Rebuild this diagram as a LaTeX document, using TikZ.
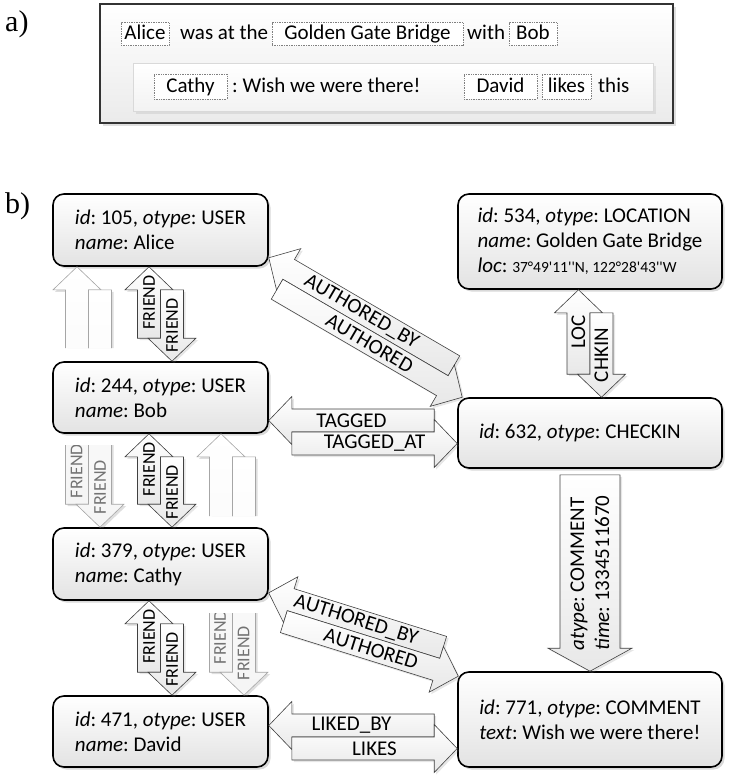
\documentclass[tikz,border=0pt]{standalone}
\usepackage{fontspec}
\setmainfont{Carlito}
\newfontfamily\partfont{Liberation Serif}
\usetikzlibrary{calc,shadows}

\newcommand{\bsw}{11.5pt}
\newcommand{\bhw}{24pt}

\tikzset{
  obj/.style={draw, line width=1.6pt, rounded corners=11pt, top color=white, bottom color=black!11,
    drop shadow={opacity=0.3, shadow xshift=2.5pt, shadow yshift=-2.5pt},
    align=left, inner xsep=10pt, inner ysep=0pt,
    font=\fontsize{21}{25}\selectfont},
  barrow/.style={draw=black!75, line width=0.6pt, top color=white, bottom color=black!9,
    drop shadow={opacity=0.2, shadow xshift=2pt, shadow yshift=-2pt}},
  ghost/.style={draw=black!35, top color=white, bottom color=black!4,
    drop shadow={opacity=0.08, shadow xshift=2pt, shadow yshift=-2pt}},
  lbl/.style={inner sep=0pt, font=\fontsize{21}{25}\selectfont},
  friend/.style={lbl, rotate=90, font=\fontsize{18}{20}\selectfont},
  ghostlbl/.style={friend, text=black!55},
  sentbox/.style={draw=black!80, line width=1.2pt, top color=white, bottom color=black!8,
    drop shadow={opacity=0.25, shadow xshift=3pt, shadow yshift=-3pt}},
  quotebox/.style={draw=black!15, line width=0.8pt, top color=white, bottom color=black!5,
    drop shadow={opacity=0.15, shadow xshift=2.5pt, shadow yshift=-2.5pt}},
  word/.style={draw=black!50, densely dotted, line width=0.7pt, fill=white,
    text height=15pt, text depth=4pt, inner xsep=0pt, inner ysep=2pt,
    font=\fontsize{21}{25}\selectfont},
  txt/.style={anchor=base west, inner sep=0pt, font=\fontsize{21}{25}\selectfont},
  tagtxt/.style={anchor=base west, inner sep=0pt, font=\partfont\fontsize{30}{32}\selectfont}
}

% one block arrow: [style] {tail} {tip} {label} {label options}
\newcommand{\blockarr}[5][]{%
  \coordinate (ba-h) at ($(#3)!23pt!(#2)$);
  \draw[barrow,#1] ($(#2)!\bsw!90:(#3)$) -- ($(ba-h)!\bsw!90:(#3)$) -- ($(ba-h)!\bhw!90:(#3)$)
    -- (#3) -- ($(ba-h)!\bhw!-90:(#3)$) -- ($(ba-h)!\bsw!-90:(#3)$) -- ($(#2)!\bsw!-90:(#3)$) -- cycle;
  \path (#2) -- (#3) node[lbl,midway,#5] {#4};
}

% two block arrows side by side: [style] {end 1} {end 2} {side} {label to 1} {label to 2} {label options}
\newcommand{\arrowpair}[7][]{%
  \coordinate (ap-m1) at ($(#3)!23pt!(#2)$);
  \coordinate (ap-m2) at ($(#2)!23pt!(#3)$);
  \coordinate (ap-ta) at ($(#2)!\bsw!#4:(#3)$);
  \coordinate (ap-ea) at ($(ap-m1)!\bsw!#4:(#3)$);
  \coordinate (ap-tb) at ($(#3)!\bsw!#4:(#2)$);
  \coordinate (ap-eb) at ($(ap-m2)!\bsw!#4:(#2)$);
  \blockarr[#1]{ap-ea}{ap-ta}{#5}{#7}
  \blockarr[#1]{ap-eb}{ap-tb}{#6}{#7}
}

\begin{document}
\frenchspacing
\begin{tikzpicture}[x=1pt,y=-1pt]
  \useasboundingbox (0,0) rectangle (734,780);

  % a)
  \node[tagtxt] (tag-a) at (5,31) {a)};
  \node[sentbox, minimum width=573pt, minimum height=119pt] (post) at (386.5,63.5) {};
  \node[quotebox, minimum width=520pt, minimum height=48pt] (quote) at (393,87) {};
  \node[word, minimum width=48pt] (w-alice) at (145,34) {Alice};
  \node[txt] (t-was) at (180,39.5) {was at the};
  \node[word, minimum width=191pt] (w-ggb) at (367.5,34) {Golden Gate Bridge};
  \node[txt] (t-with) at (467,39.5) {with};
  \node[word, minimum width=48pt] (w-bob) at (533,34) {Bob};
  \node[word, minimum width=73pt, inner ysep=3pt] (w-cathy) at (190.5,86.5) {Cathy};
  \node[txt] (t-wish) at (232,92) {: Wish we were there!};
  \node[word, minimum width=73pt, inner ysep=3pt] (w-david) at (500.5,86.5) {David};
  \node[word, minimum width=49pt, inner ysep=3pt] (w-likes) at (566.5,86.5) {likes};
  \node[txt] (t-this) at (598,92) {this};

  % b)
  \node[tagtxt] (tag-b) at (5,213) {b)};
  \node[obj, minimum width=215pt, minimum height=72pt] (alice) at (160.5,230)
    {\textit{id}: 105, \textit{otype}: USER\\\textit{name}: Alice};
  \node[obj, minimum width=215pt, minimum height=71pt] (bob) at (160.5,397.5)
    {\textit{id}: 244, \textit{otype}: USER\\\textit{name}: Bob};
  \node[obj, minimum width=215pt, minimum height=72pt] (cathy) at (160.5,564)
    {\textit{id}: 379, \textit{otype}: USER\\\textit{name}: Cathy};
  \node[obj, minimum width=215pt, minimum height=71pt] (david) at (160.5,731.5)
    {\textit{id}: 471, \textit{otype}: USER\\\textit{name}: David};
  \node[obj, minimum width=264pt, minimum height=95pt] (location) at (590,241.5)
    {\textit{id}: 534, \textit{otype}: LOCATION\\\textit{name}: Golden Gate Bridge\\
     \textit{loc}: {\fontsize{15.5}{24}\selectfont\addfontfeature{Ligatures=TeXOff}37°49'11''N, 122°28'43''W}};
  \node[obj, text width=222pt, inner xsep=21pt, align=flush left, minimum height=70pt] (checkin) at (590,433)
    {\textit{id}: 632, \textit{otype}: CHECKIN};
  \node[obj, minimum width=264pt, minimum height=95pt] (comment) at (590,719.5)
    {\textit{id}: 771, \textit{otype}: COMMENT\\\textit{text}: Wish we were there!};

  % hidden friend edges behind bob and cathy
  \coordinate (gl-1) at ($(alice.south)+(-72,0)$);
  \coordinate (gl-2) at ($(cathy.north)+(-72,0)$);
  \coordinate (gr-1) at ($(bob.south)+(72,0)$);
  \coordinate (gr-2) at ($(david.north)+(72,0)$);
  \begin{scope}
    \clip (0,266) rectangle (140,348) (0,445) rectangle (140,528);
    \arrowpair[ghost]{gl-1}{gl-2}{-90}{}{}{friend}
    \node[ghostlbl] (gl-a) at (76.5,471) {FRIEND};
    \node[ghostlbl] (gl-b) at (100,487) {FRIEND};
  \end{scope}
  \begin{scope}
    \clip (190,433) rectangle (300,516) (190,613) rectangle (300,696);
    \arrowpair[ghost]{gr-1}{gr-2}{-90}{}{}{friend}
    \node[ghostlbl] (gr-a) at (220,637) {FRIEND};
    \node[ghostlbl] (gr-b) at (243.5,653) {FRIEND};
  \end{scope}

  % friend edges
  \arrowpair{alice.south}{bob.north}{-90}{FRIEND}{FRIEND}{friend}
  \arrowpair{bob.south}{cathy.north}{-90}{FRIEND}{FRIEND}{friend}
  \arrowpair{cathy.south}{david.north}{-90}{FRIEND}{FRIEND}{friend}

  % location and checkin
  \arrowpair{location.south}{checkin.north}{-90}{LOC}{CHKIN}{rotate=90}

  \coordinate (au-1) at ($(alice.south east)+(-5.8,0.9)$);
  \coordinate (au-2) at ($(checkin.north west)+(10.8,-9.9)$);
  \arrowpair{au-1}{au-2}{90}{AUTHORED\_BY}{AUTHORED}{sloped}

  \coordinate (tg-1) at ($(bob.east)+(0,34.5)$);
  \coordinate (tg-2) at ($(checkin.west)+(0,-1)$);
  \arrowpair{tg-1}{tg-2}{90}{TAGGED}{TAGGED\_AT}{sloped}

  \coordinate (ac-1) at ($(cathy.south east)+(-3.5,3)$);
  \coordinate (ac-2) at ($(comment.north west)+(4.5,-6)$);
  \arrowpair{ac-1}{ac-2}{90}{AUTHORED\_BY}{AUTHORED}{sloped}

  \coordinate (lk-1) at ($(david.east)+(0,5.5)$);
  \coordinate (lk-2) at ($(comment.west)+(0,17.5)$);
  \arrowpair{lk-1}{lk-2}{90}{LIKED\_BY}{LIKES}{sloped}

  % comment on the checkin
  \coordinate (cm-1) at ($(checkin.south)+(0,6)$);
  {\renewcommand{\bsw}{30pt}\renewcommand{\bhw}{42pt}
   \blockarr{cm-1}{comment.north}{\textit{atype}: COMMENT\\\textit{time}: 1334511670}{rotate=90, align=left}}
\end{tikzpicture}
\end{document}
